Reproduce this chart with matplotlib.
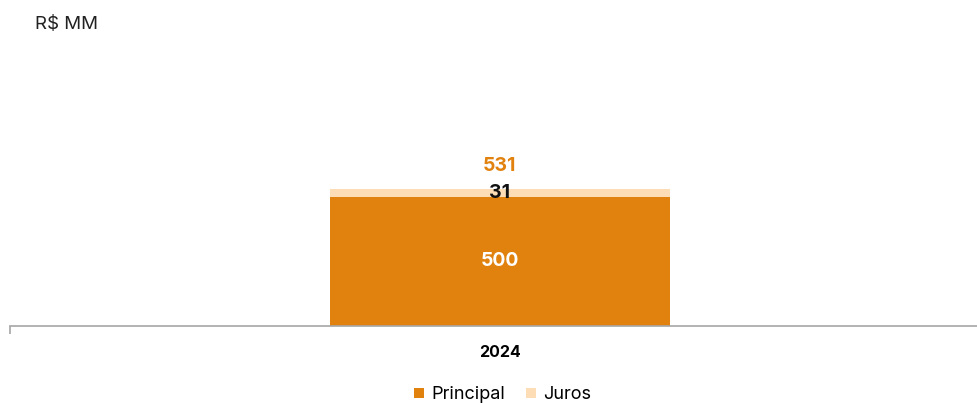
import matplotlib.pyplot as plt

# --- DATA ---
years = ['2024']
principal = [500]
juros = [31]
totals = [p + j for p, j in zip(principal, juros)]

ORANGE = '#E1820E'
LIGHT = '#FCDDB6'

plt.rcParams['font.family'] = ['Inter', 'DejaVu Sans']

fig = plt.figure(figsize=(9.78, 4.03), dpi=100)
ax = fig.add_axes([0.0102, 0.191, 0.9898, 0.705])

x = list(range(len(years)))
width = 1.054
ax.bar(x, principal, width=width, color=ORANGE, label='Principal')
ax.bar(x, juros, width=width, bottom=principal, color=LIGHT, label='Juros')

for xi, p, j, t in zip(x, principal, juros, totals):
    ax.text(xi, p / 2, f'{p}', ha='center', va='center', color='white',
            fontsize=14, fontweight='bold')
    ax.text(xi, p + j / 2 - 2, f'{j}', ha='center', va='center', color='#111111',
            fontsize=14, fontweight='bold')
    ax.text(xi, t + 88, f'{t}', ha='center', va='center', color=ORANGE,
            fontsize=14, fontweight='bold')

ax.set_xlim(-1.518, 1.482)
ax.set_ylim(0, 1100)
ax.set_xticks(x)
ax.set_xticklabels(years, fontsize=11.5, fontweight='bold')
ax.tick_params(axis='x', length=0, pad=14)
ax.set_xticks([-1.518], minor=True)
ax.tick_params(axis='x', which='minor', length=6, width=1.2, color='#A6A6A6')
ax.set_yticks([])
for s in ['top', 'right', 'left']:
    ax.spines[s].set_visible(False)
ax.spines['bottom'].set_color('#A6A6A6')
ax.spines['bottom'].set_linewidth(1.2)

fig.text(0.036, 0.94, 'R$ MM', fontsize=13.5, ha='left', va='center', color='#222222')

fig.legend(loc='center', bbox_to_anchor=(0.514, 0.02), ncol=2, frameon=False,
           fontsize=13, handlelength=0.55, handleheight=0.55, handletextpad=0.4,
           columnspacing=1.2)

fig.savefig('out.png', dpi=100)
